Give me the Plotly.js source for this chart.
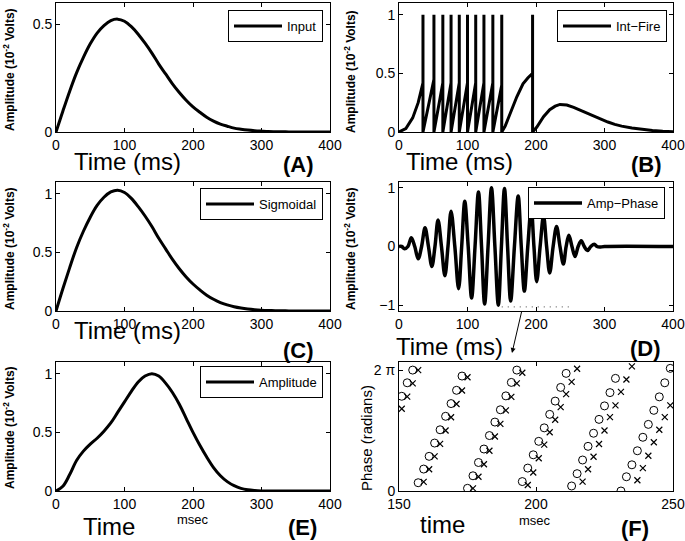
<!DOCTYPE html>
<html>
<head>
<meta charset="utf-8">
<script src="https://cdn.plot.ly/plotly-3.0.1.min.js"></script>
<style>html,body{margin:0;padding:0;background:#fff;}#chart{width:685px;height:541px;}</style>
</head>
<body>
<div id="chart"></div>
<script>
// ---------- data ----------
const timeMs = [0,10,20,30,40,50,60,70,80,90,100,110,120,130,140,150,160,170,180,190,200,210,220,230,240,250,260,270,280,290,300,310,320,330,340,350,360,370,380,390,400];
const inputAmp = [0,0.097,0.19,0.275,0.347,0.41,0.46,0.495,0.518,0.525,0.515,0.49,0.455,0.413,0.367,0.316,0.27,0.224,0.184,0.148,0.117,0.092,0.069,0.051,0.037,0.027,0.018,0.013,0.009,0.006,0.004,0.0023,0.0015,0.001,0.0005,0.0003,0,0,0,0,0];
const sigmoidalAmp = [0,0.19,0.37,0.54,0.68,0.80,0.90,0.97,1.015,1.03,1.01,0.96,0.89,0.81,0.72,0.62,0.53,0.44,0.36,0.29,0.23,0.18,0.135,0.10,0.072,0.052,0.036,0.025,0.017,0.011,0.007,0.0045,0.003,0.002,0.001,0.0005,0,0,0,0,0];
const amplitudeEnv = [0,0.04,0.14,0.26,0.34,0.40,0.45,0.51,0.58,0.67,0.76,0.85,0.93,0.98,1.0,0.98,0.92,0.84,0.74,0.62,0.50,0.39,0.29,0.20,0.13,0.08,0.045,0.022,0.01,0.004,0.001,0,0,0,0,0,0,0,0,0,0];

const intFireT = [0,10,20,28,35,35,35,51,51,51,64,64,64,76,76,76,88,88,88,100,100,100,112,112,112,124,124,124,137,137,137,150,150,150,155,162,172,181,188,195,195,195,201,205,211,220,228,235,245,255,265,275,285,295,305,315,325,340,355,370,385,400];
const intFireV = [0,0.03,0.12,0.25,0.42,1,0,0.45,1,0,0.42,1,0,0.42,1,0,0.42,1,0,0.42,1,0,0.42,1,0,0.42,1,0,0.42,1,0,0.40,1,0,0.05,0.16,0.30,0.41,0.46,0.5,1,0,0.04,0.08,0.13,0.19,0.22,0.235,0.23,0.21,0.185,0.16,0.13,0.105,0.085,0.065,0.05,0.035,0.022,0.013,0.007,0.003];

const ampPhaseT = [0,4,8,13,18,23,28,33,38,43,48,52.5,57,62,67,71.5,76,81.5,87,91.5,96,101,106,111,116,120.5,125,130,135,140,145,149.5,154,158.5,163,168.5,174,178.5,183,188,193,197,201,206,211,215.5,220,225,230,235,240,244,248,252.5,257,261.5,266,270.5,275,280,285,289,293,300,400];
const ampPhaseV = [0,0,-0.04,0,0.15,0,-0.21,0,0.32,0,-0.34,0,0.45,0,-0.5,0,0.6,0,-0.72,0,0.77,0,-0.88,0,0.93,0,-0.98,0,1.0,0,-1.0,0,0.99,0,-0.93,0,0.86,0,-0.76,0,0.66,0,-0.6,0,0.52,0,-0.45,0,0.34,0,-0.3,0,0.19,0,-0.17,0,0.1,0,-0.07,0,0.04,0,-0.01,0,0];
const zoomWindowT = [150,250];
const zoomWindowV = [-1.03,-1.03];

const phaseT = [151,153,155,157,159,161,163,165,167,169,171,173,175,177,179,181,183,185,187,189,191,193,195,197,199,201,203,205,207,209,211,213,215,217,219,221,223,225,227,229,231,233,235,237,239,241,243,245,247,249];
const phaseCircles = [4.92,5.62,6.28,0.43,1.14,1.80,2.49,3.18,3.88,4.54,5.23,5.97,0.14,0.79,1.48,2.18,2.88,3.58,4.22,4.94,5.64,6.28,0.49,1.19,1.88,2.58,3.28,3.98,4.67,5.38,6.11,0.26,0.90,1.61,2.32,3.00,3.72,4.42,5.11,5.85,0.0,0.74,1.36,2.09,2.79,3.46,4.19,4.89,5.62,6.37];
const phaseCrosses = [4.27,4.90,5.59,6.28,0.47,1.13,1.80,2.45,3.14,3.83,4.52,5.22,5.91,0.14,0.74,1.39,2.09,2.83,3.49,4.19,4.89,5.59,6.14,0.31,0.96,1.70,2.41,3.05,3.70,4.36,5.03,5.67,6.35,0.49,1.13,1.78,2.44,3.14,3.84,4.45,5.15,5.79,6.47,0.56,1.19,1.83,2.53,3.18,3.84,4.45];

// ---------- layout helpers ----------
const W = 685, H = 541;
const FONT = 'Liberation Sans, Arial, Helvetica, sans-serif';
const px = v => v / W;
const py = v => 1 - v / H;
const colL = [px(56), px(330)], colR = [px(399), px(673)];
const row1 = [py(132), py(3)], row2 = [py(311), py(182)], row3 = [py(491), py(362)];

function axis(domain, anchor, range, extra) {
  return Object.assign({
    domain: domain, anchor: anchor, range: range,
    showline: true, linecolor: '#000', linewidth: 1, mirror: 'ticks',
    ticks: 'inside', ticklen: 4, tickcolor: '#000', tickwidth: 1,
    showgrid: false, zeroline: false,
    tickfont: {family: FONT, size: 14, color: '#000'}
  }, extra || {});
}
function leg(xr, yt) {
  return {x: px(xr), y: py(yt), xanchor: 'right', yanchor: 'top',
          bgcolor: '#fff', bordercolor: '#000', borderwidth: 1,
          font: {family: FONT, size: 13, color: '#000'},
          tracegroupgap: 0, itemwidth: 48};
}
function ann(text, x, y, size, opts) {
  return Object.assign({text: text, x: px(x), y: py(y), xref: 'paper', yref: 'paper',
    showarrow: false, xanchor: 'center', yanchor: 'middle',
    font: {family: FONT, size: size, color: '#000'}}, opts || {});
}
const ampTitle = 'Amplitude (10<sup>-2</sup> Volts)';
const BOLD12 = {family: FONT, size: 12, color: '#000', weight: 'bold'};
const LINE = {color: '#000', width: 3};

const traces = [
  {x: timeMs, y: inputAmp, type: 'scatter', mode: 'lines', name: 'Input', line: Object.assign({shape: 'spline'}, LINE), xaxis: 'x', yaxis: 'y', legend: 'legend'},
  {x: intFireT, y: intFireV, type: 'scatter', mode: 'lines', name: 'Int\u2212Fire', line: LINE, xaxis: 'x2', yaxis: 'y2', legend: 'legend2'},
  {x: timeMs, y: sigmoidalAmp, type: 'scatter', mode: 'lines', name: 'Sigmoidal', line: Object.assign({shape: 'spline'}, LINE), xaxis: 'x3', yaxis: 'y3', legend: 'legend3'},
  {x: ampPhaseT, y: ampPhaseV, type: 'scatter', mode: 'lines', name: 'Amp\u2212Phase', line: {color: '#000', width: 3.5, shape: 'spline', smoothing: 1}, xaxis: 'x4', yaxis: 'y4', legend: 'legend4'},
  {x: zoomWindowT, y: zoomWindowV, type: 'scatter', mode: 'lines', showlegend: false, line: {color: '#444', width: 1, dash: '1px,5px'}, xaxis: 'x4', yaxis: 'y4', hoverinfo: 'skip'},
  {x: timeMs, y: amplitudeEnv, type: 'scatter', mode: 'lines', name: 'Amplitude', line: Object.assign({shape: 'spline'}, LINE), xaxis: 'x5', yaxis: 'y5', legend: 'legend5'},
  {x: phaseT, y: phaseCircles, type: 'scatter', mode: 'markers', showlegend: false, marker: {symbol: 'circle-open', size: 8, color: '#000', line: {width: 1, color: '#000'}}, xaxis: 'x6', yaxis: 'y6'},
  {x: phaseT, y: phaseCrosses, type: 'scatter', mode: 'markers', showlegend: false, marker: {symbol: 'x-thin-open', size: 6, color: '#000', line: {width: 1.2, color: '#000'}}, xaxis: 'x6', yaxis: 'y6'}
];

const xt = {tickvals: [0,100,200,300,400]};
const layout = {
  width: W, height: H, margin: {l: 0, r: 0, t: 0, b: 0},
  paper_bgcolor: '#fff', plot_bgcolor: '#fff', showlegend: true,
  font: {family: FONT, color: '#000'},
  xaxis:  axis(colL, 'y',  [0,400], xt),
  yaxis:  axis(row1, 'x',  [0,0.6], {tickvals: [0,0.5]}),
  xaxis2: axis(colR, 'y2', [0,400], xt),
  yaxis2: axis(row1, 'x2', [0,1.1], {tickvals: [0,0.5,1]}),
  xaxis3: axis(colL, 'y3', [0,400], xt),
  yaxis3: axis(row2, 'x3', [0,1.1], {tickvals: [0,0.5,1]}),
  xaxis4: axis(colR, 'y4', [0,400], xt),
  yaxis4: axis(row2, 'x4', [-1.1,1.1], {tickvals: [-1,0,1]}),
  xaxis5: axis(colL, 'y5', [0,400], xt),
  yaxis5: axis(row3, 'x5', [0,1.1], {tickvals: [0,0.5,1]}),
  xaxis6: axis(colR, 'y6', [150,250], {tickvals: [150,200,250]}),
  yaxis6: axis(row3, 'x6', [0,6.7], {tickvals: [0, 2*Math.PI], ticktext: ['0','2 \u03c0']}),
  legend:  leg(323, 10),
  legend2: leg(667, 10),
  legend3: leg(323, 188),
  legend4: leg(665, 187),
  legend5: leg(323, 366),
  annotations: [
    ann(ampTitle, 9, 70, 12, {textangle: -90, font: BOLD12}),
    ann(ampTitle, 350, 72, 12, {textangle: -90, font: BOLD12}),
    ann(ampTitle, 9, 249, 12, {textangle: -90, font: BOLD12}),
    ann(ampTitle, 350, 249, 12, {textangle: -90, font: BOLD12}),
    ann(ampTitle, 9, 428, 12, {textangle: -90, font: BOLD12}),
    ann('Phase (radians)', 366, 438, 15, {textangle: -90}),
    ann('Time (ms)', 128, 161, 24),
    ann('<b>(A)</b>', 298, 164, 22),
    ann('Time (ms)', 459, 161, 24),
    ann('<b>(B)</b>', 646, 164, 22),
    ann('Time (ms)', 128, 330, 24),
    ann('<b>(C)</b>', 298, 350, 22),
    ann('Time (ms)', 449, 346, 24),
    ann('<b>(D)</b>', 645, 348, 22),
    ann('Time', 109, 526, 24),
    ann('msec', 193, 519, 13),
    ann('<b>(E)</b>', 302, 527, 22),
    ann('time', 442, 524, 24),
    ann('msec', 535, 520, 13),
    ann('<b>(F)</b>', 635, 528, 22),
    {x: px(512), y: py(353), xref: 'paper', yref: 'paper', text: '', showarrow: true,
     ax: 10, ay: -43, arrowhead: 2, arrowsize: 1, arrowwidth: 1, arrowcolor: '#000'}
  ]
};

Plotly.newPlot('chart', traces, layout, {displayModeBar: false, staticPlot: true});
</script>
</body>
</html>
